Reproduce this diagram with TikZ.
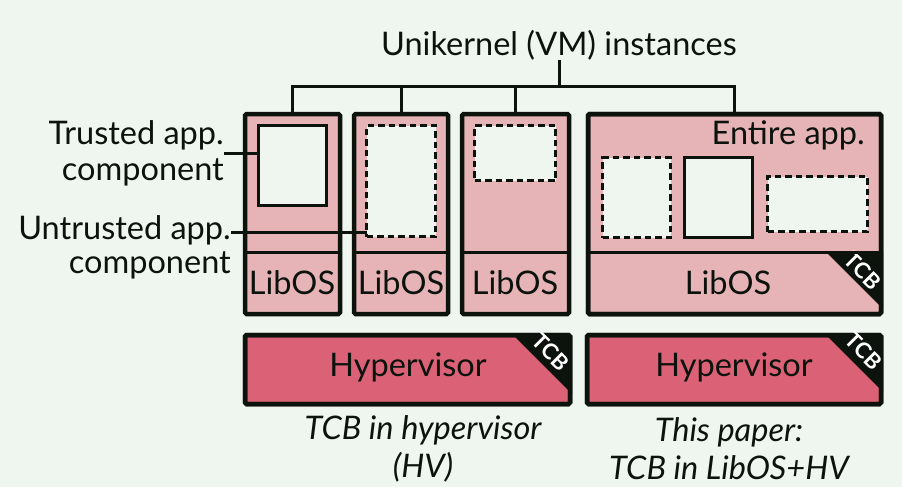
\documentclass[tikz,border=0pt]{standalone}
\usepackage{fontspec}
\setmainfont{Lato}
\definecolor{bgc}{HTML}{EFF6F0}
\definecolor{pinkc}{HTML}{E6B4B7}
\definecolor{hvc}{HTML}{DB6276}
\definecolor{ink}{HTML}{0C120C}
\tikzset{
  vm/.style={draw=ink, line width=4.5pt, fill=pinkc, rounded corners=1.5pt, inner sep=0pt, outer sep=0pt, anchor=north west},
  hv/.style={draw=ink, line width=4.5pt, fill=hvc, rounded corners=1.5pt, inner sep=0pt, outer sep=0pt, anchor=north west},
  comp/.style={draw=ink, line width=3pt, fill=bgc, inner sep=0pt, outer sep=0pt, anchor=north west},
  ucomp/.style={comp, dash pattern=on 6.5pt off 4pt},
  divline/.style={draw=ink, line width=3pt},
  conn/.style={draw=ink, line width=3pt},
  lbl/.style={text=ink, font=\fontsize{32.5}{36}\selectfont, inner sep=0pt},
  captext/.style={text=ink, font=\fontsize{32.5}{38}\selectfont\itshape, align=center, inner sep=0pt},
  tcbtext/.style={text=white, font=\fontsize{22}{22}\selectfont\bfseries, rotate=-45, inner sep=0pt},
}
\begin{document}
\begin{tikzpicture}[x=1pt, y=-1pt]
\fill[bgc] (0,0) rectangle (902,487);
\useasboundingbox (0,0) rectangle (902,487);
\coordinate (dv) at (0,252);
\coordinate (bus) at (557,86);
% title
\node[lbl] (title) at (559,45) {Unikernel (VM) instances};
% VM boxes
\node[vm, minimum width=95pt, minimum height=200pt] (b1) at (245,114) {};
\node[vm, minimum width=94pt, minimum height=200pt] (b2) at (354,114) {};
\node[vm, minimum width=107pt, minimum height=200pt] (b3) at (462,114) {};
\node[vm, minimum width=293pt, minimum height=200pt] (b4) at (588,114) {};
% TCB corner in LibOS of b4
\fill[ink] (826,252) -- (883,252) -- (883,309) -- cycle;
\draw[draw=ink, line width=4.5pt, rounded corners=1.5pt] (b4.north west) rectangle (b4.south east);
\node[tcbtext] (tcb4) at (863,271) {TCB};
% dividers
\draw[divline] (b1.west |- dv) -- (b1.east |- dv);
\draw[divline] (b2.west |- dv) -- (b2.east |- dv);
\draw[divline] (b3.west |- dv) -- (b3.east |- dv);
\draw[divline] (b4.west |- dv) -- (b4.east |- dv);
% components
\node[comp, minimum width=68pt, minimum height=80pt] (tr1) at (258.5,125.5) {};
\node[ucomp, minimum width=69pt, minimum height=111pt] (ut2) at (366.5,125.5) {};
\node[ucomp, minimum width=81pt, minimum height=55pt] (ut3) at (474.5,125.5) {};
\node[ucomp, minimum width=68pt, minimum height=80pt] (ua) at (602.5,157.5) {};
\node[comp, minimum width=68pt, minimum height=80pt] (tb) at (684.5,157.5) {};
\node[ucomp, minimum width=100pt, minimum height=55pt] (uc) at (767.5,176.5) {};
\node[lbl, anchor=east] (entire) at (865,135) {Entire app.};
% LibOS labels
\node[lbl] (l1) at (292,283) {LibOS};
\node[lbl] (l2) at (401,283) {LibOS};
\node[lbl] (l3) at (515,283) {LibOS};
\node[lbl] (l4) at (728,283) {LibOS};
% tree connectors
\draw[conn] (title.south) -- (title.south |- bus);
\draw[conn] (b1.north) |- (b4.north |- bus) -- (b4.north);
\draw[conn] (b2.north) -- (b2.north |- bus);
\draw[conn] (b3.north) -- (b3.north |- bus);
% side labels
\node[lbl, align=right, anchor=east, font=\fontsize{32.5}{36}\selectfont] (lt) at (224,153) {Trusted app.\\component};
\node[lbl, align=right, anchor=east, font=\fontsize{32.5}{34}\selectfont] (lu) at (231,247) {Untrusted app.\\component};
\draw[conn] (lt.east) -- (lt.east -| tr1.west);
\coordinate (uy) at (0,232);
\draw[conn] (lu.east |- uy) -- (ut2.west |- uy);
% hypervisors
\node[hv, minimum width=325pt, minimum height=69pt] (h1) at (245,335) {};
\node[hv, minimum width=294pt, minimum height=69pt] (h2) at (587,335) {};
\fill[ink] (513,335) -- (572,335) -- (572,394) -- cycle;
\fill[ink] (826,335) -- (883,335) -- (883,392) -- cycle;
\draw[draw=ink, line width=4.5pt, rounded corners=1.5pt] (h1.north west) rectangle (h1.south east);
\draw[draw=ink, line width=4.5pt, rounded corners=1.5pt] (h2.north west) rectangle (h2.south east);
\node[lbl] (hv1) at (408,367) {Hypervisor};
\node[lbl] (hv2) at (734,367) {Hypervisor};
\node[tcbtext] (tcb1) at (551,352) {TCB};
\node[tcbtext] (tcb2) at (864,351) {TCB};
% captions
\node[captext] (c1) at (423,449) {TCB in hypervisor\\(HV)};
\node[captext] (c2) at (729,449) {This paper:\\TCB in LibOS+HV};
\end{tikzpicture}
\end{document}
